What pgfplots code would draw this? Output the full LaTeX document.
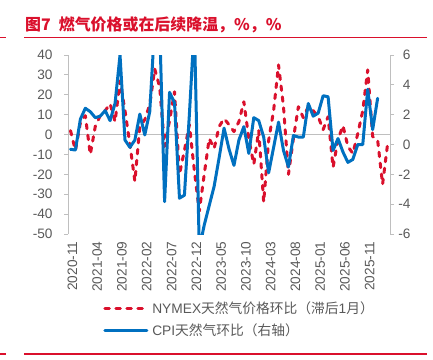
\documentclass[border=0pt]{standalone}
\usepackage{pgfplots}
\usepackage{pgfplotstable}
\pgfplotsset{compat=1.18}
\usepackage{fontspec}
\setmainfont{Liberation Sans}
\newfontfamily\cjk{Noto Sans CJK SC}
\definecolor{myred}{RGB}{218,16,44}
\definecolor{myblue}{RGB}{0,112,192}
\definecolor{tickgray}{RGB}{89,89,89}
\definecolor{axgray}{RGB}{191,191,191}

\pgfplotstableread{
x y
0 2
1 -8
2 6
3 9.5
4 -10
5 4
6 9.5
7 12
8 15.5
9 6.5
10 27
11 12
12 -5
13 -23.5
14 4
15 7.5
16 15
17 33
18 24
19 -6
20 7
21 21.5
22 -20
23 -8
24 5
25 -18
26 -38.5
27 -20
28 -2
29 -7
30 4
31 8
32 5
33 1.5
34 6.5
35 16.5
36 -2
37 -15
38 2
39 -34
40 -3
41 12
42 35
43 14
44 -20
45 -2
46 14
47 8.5
48 14
49 12
50 9
51 2.5
52 9
53 -16.5
54 -2.5
55 4.5
56 -6
57 -9.5
58 0.5
59 12
60 32.5
61 -1
62 -2.7
63 -25
64 -5
}\redtable

\pgfplotstableread{
x y
0 -0.32
1 -0.37
2 1.7
3 2.43
4 2.2
5 1.8
6 1.9
7 2.27
8 1.6
9 2.76
10 6.0
11 0.3
12 -0.19
13 0.3
14 2.04
15 0.64
16 2.2
17 8
18 8
19 -3.83
20 3.5
21 2.8
22 -3.6
23 -3.4
24 2
25 8
26 -7
27 -5.4
28 -4.1
29 -2.8
30 -0.9
31 1.1
32 -0.3
33 -1.4
34 0.3
35 1.2
36 -0.6
37 1.8
38 1.6
39 0.5
40 -1.9
41 -0.2
42 1.5
43 -0.4
44 -1.5
45 0.6
46 0.5
47 0.5
48 2.75
49 1.9
50 2.1
51 3.27
52 3.2
53 -0.4
54 0.4
55 -0.5
56 -1.2
57 -1.0
58 0
59 0
60 3.7
61 1.0
62 3.1
}\bluetable

\pgfplotsset{
  common/.style={
    scale only axis, width=322bp, height=179bp,
    at={(68bp,125bp)}, anchor=south west,
    xmin=-0.5, xmax=64.5,
    tick align=outside, major tick length=4bp,
    tick label style={font=\fontsize{13.7}{16}\selectfont, text=tickgray},
  }
}

\begin{document}
\begin{tikzpicture}[x=1bp,y=1bp]
\useasboundingbox (0,0) rectangle (433,359);
\node[anchor=base west, text=myred, font=\cjk\bfseries\fontsize{16}{19}\selectfont, inner sep=0] at (25,329) {图7\hspace{8bp}燃气价格或在后续降温，\%，\%};
\draw[myred, line width=1.6] (24,321.3) -- (427,321.3);
\draw[myred, line width=1.6] (0,321.3) -- (5.5,321.3);
\draw[myred, line width=1.6] (24,5) -- (427,5);
\draw[myred, line width=1.6] (0,5) -- (5.5,5);

\begin{axis}[common,
  ymin=-50, ymax=40,
  ytick={-50,-40,...,40},
  yticklabels={-50,-40,-30,-20,-10,0,10,20,30,40},
  axis y line*=left, axis x line*=bottom,
  x axis line style={draw=none},
  y axis line style={axgray, line width=0.8bp},
  ytick style={axgray, line width=0.8bp},
  yticklabel style={anchor=east, xshift=-8bp},
  xtick={0,5,...,60},
  xticklabels={2020-11,2021-04,2021-09,2022-02,2022-07,2022-12,2023-05,2023-10,2024-03,2024-08,2025-01,2025-06,2025-11},
  xtick style={draw=none},
  xticklabel style={rotate=90, anchor=east, yshift=-2bp},
  extra y ticks={0}, extra y tick labels={},
  extra y tick style={grid=major, major grid style={axgray, line width=1bp}, tick style={draw=none}},
  legend style={at={(axis description cs:0.109,-0.38)}, anchor=north west, draw=none, fill=none,
    font=\fontsize{13.8}{16}\selectfont, text=tickgray, inner sep=0pt,
    nodes={inner sep=0pt}, column sep=4bp, row sep=8bp},
  legend cell align=left,
  legend image code/.code={\draw[#1] (0bp,0bp) -- (42bp,0bp);},
]
\addplot[myred, line width=3bp, line cap=round, line join=round, dash pattern=on 4.5bp off 6.5bp] table[x=x,y=y]{\redtable};
\addlegendentry{NYMEX{\cjk 天然气价格环比（滞后}1{\cjk 月）}}
\addlegendimage{myblue, line width=3bp, line cap=round}
\addlegendentry{CPI{\cjk 天然气环比（右轴）}}
\end{axis}

\begin{axis}[common,
  ymin=-6, ymax=6,
  ytick={-6,-4,...,6},
  yticklabels={-6,-4,-2,0,2,4,6},
  axis y line*=right, axis x line=none,
  y axis line style={axgray, line width=0.8bp},
  ytick style={axgray, line width=0.8bp},
  yticklabel style={anchor=east, xshift=20bp},
]
\addplot[myblue, line width=3bp, line join=round, line cap=round] table[x=x,y=y]{\bluetable};
\end{axis}
\end{tikzpicture}
\end{document}
